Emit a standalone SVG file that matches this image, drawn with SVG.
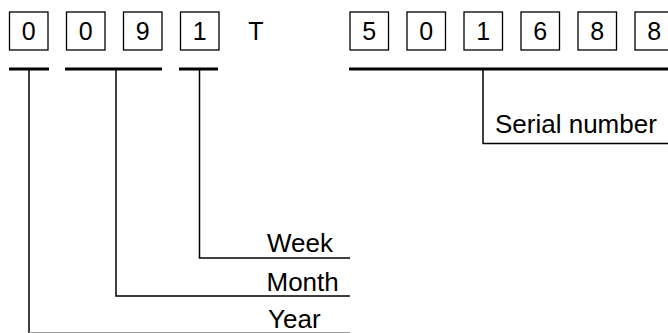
<svg xmlns="http://www.w3.org/2000/svg" width="668" height="333" viewBox="0 0 668 333">
<style>
.box{fill:#fff;stroke:#000;stroke-width:1.3}
.dig{font-family:"Liberation Sans",Arial,sans-serif;font-size:25px;fill:#000;text-anchor:middle}
.lbl{font-family:"Liberation Sans",Arial,sans-serif;font-size:26px;fill:#000}
.bar{stroke:#000;stroke-width:3;fill:none}
.ln{stroke:#000;stroke-width:1.5;fill:none}
</style>
<rect width="668" height="333" fill="#fff"/>
<g id="d1"><rect class="box" x="9.5" y="12" width="38.5" height="38"/><text class="dig" x="28.7" y="39.5">0</text></g>
<g id="d2"><rect class="box" x="66.5" y="12" width="38.5" height="38"/><text class="dig" x="85.7" y="39.5">0</text></g>
<g id="d3"><rect class="box" x="123.5" y="12" width="38.5" height="38"/><text class="dig" x="142.7" y="39.5">9</text></g>
<g id="d4"><rect class="box" x="180.5" y="12" width="38.5" height="38"/><text class="dig" x="199.7" y="39.5">1</text></g>
<g id="t"><text class="dig" x="256" y="39.5">T</text></g>
<g id="s1"><rect class="box" x="350" y="12" width="38.5" height="38"/><text class="dig" x="369.2" y="39.5">5</text></g>
<g id="s2"><rect class="box" x="407" y="12" width="38.5" height="38"/><text class="dig" x="426.2" y="39.5">0</text></g>
<g id="s3"><rect class="box" x="464" y="12" width="38.5" height="38"/><text class="dig" x="483.2" y="39.5">1</text></g>
<g id="s4"><rect class="box" x="521" y="12" width="38.5" height="38"/><text class="dig" x="540.2" y="39.5">6</text></g>
<g id="s5"><rect class="box" x="578" y="12" width="38.5" height="38"/><text class="dig" x="597.2" y="39.5">8</text></g>
<g id="s6"><rect class="box" x="635" y="12" width="38.5" height="38"/><text class="dig" x="654.2" y="39.5">8</text></g>
<g id="connectors">
<line class="bar" x1="9" y1="69" x2="49" y2="69"/>
<line class="bar" x1="65" y1="69" x2="162" y2="69"/>
<line class="bar" x1="179" y1="69" x2="218" y2="69"/>
<line class="bar" x1="349" y1="69" x2="668" y2="69"/>
<line class="ln" x1="29" y1="69" x2="29" y2="333"/>
<line x1="29" y1="332.5" x2="350" y2="332.5" stroke="#999" stroke-width="1"/>
<polyline class="ln" points="116,69 116,296 350,296"/>
<polyline class="ln" points="199.5,69 199.5,258 350,258"/>
<polyline class="ln" points="483,69 483,143.5 668,143.5"/>
</g>
<g id="week"><text class="lbl" x="267" y="252">Week</text></g>
<g id="month"><text class="lbl" x="266.5" y="291">Month</text></g>
<g id="year"><text class="lbl" x="268" y="328">Year</text></g>
<g id="serial"><text class="lbl" x="495" y="132.5">Serial number</text></g>
</svg>
